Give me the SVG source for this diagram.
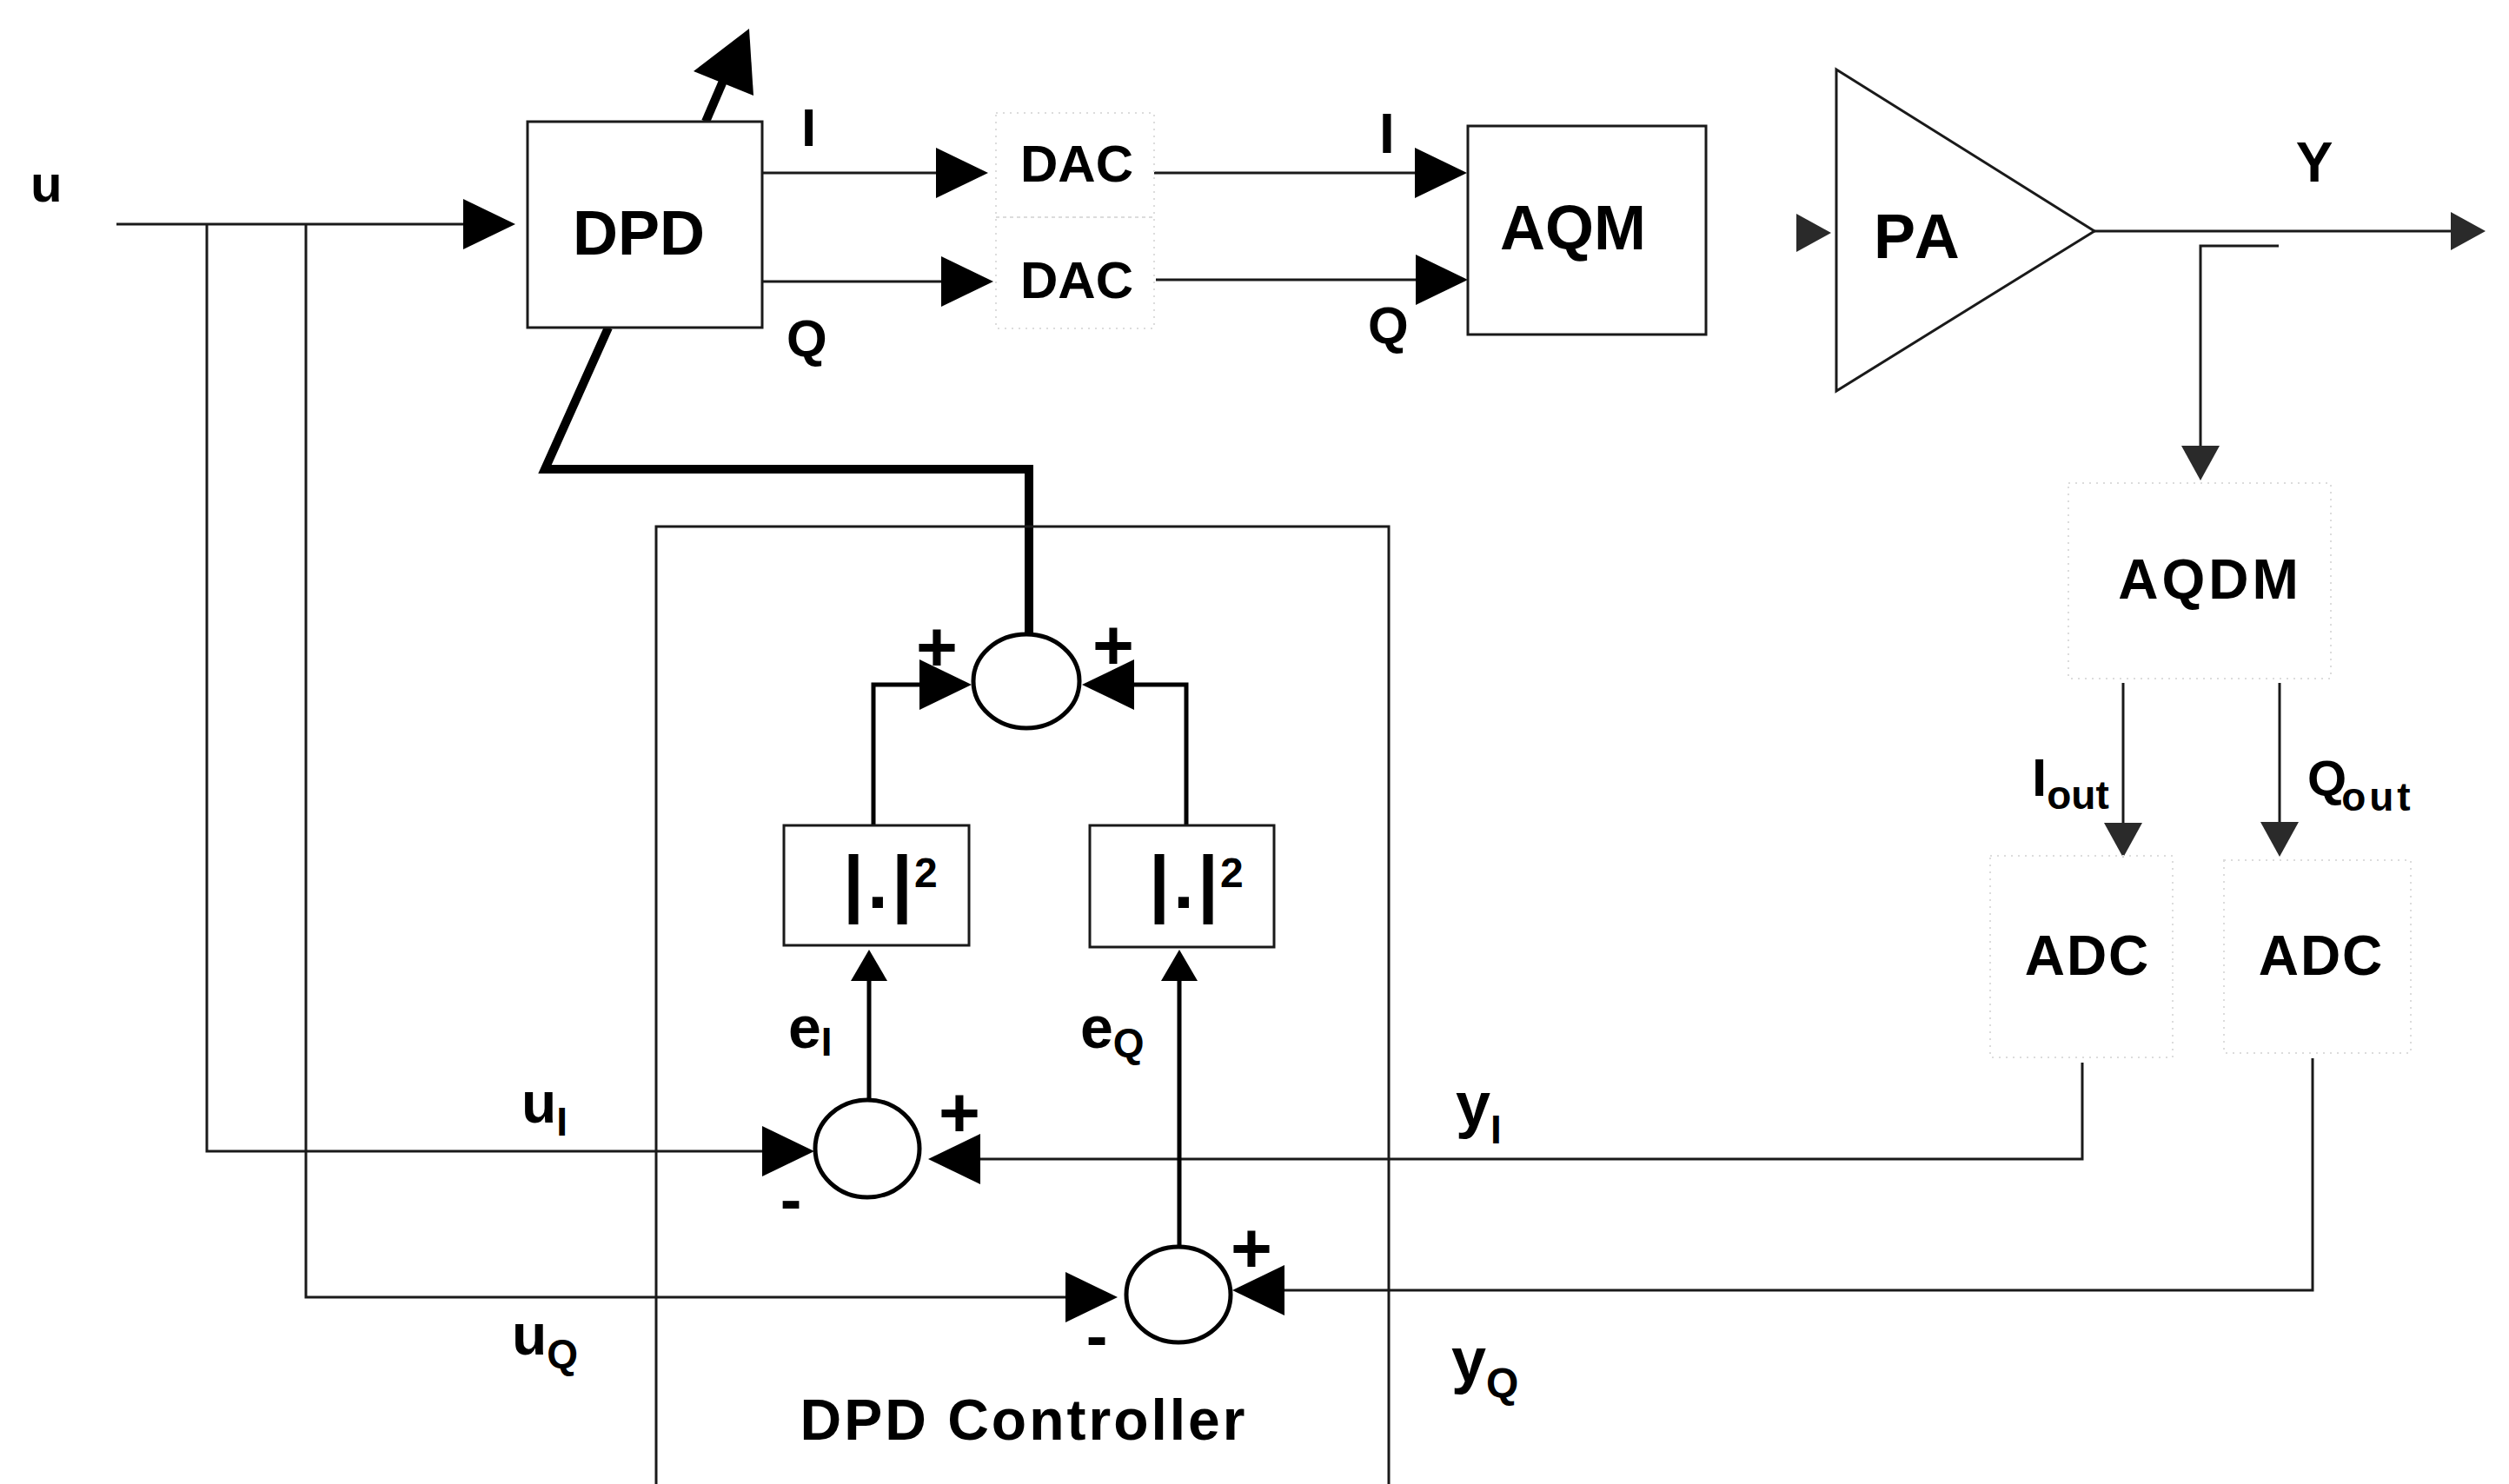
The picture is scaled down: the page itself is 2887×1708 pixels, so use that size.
<svg xmlns="http://www.w3.org/2000/svg" width="2887" height="1708" viewBox="0 0 2887 1708">
<style>
.t{font-family:"Liberation Sans",Arial,Helvetica,sans-serif;font-weight:bold;fill:#000}
.ln{fill:none;stroke:#1a1a1a;stroke-width:3}
.med{fill:none;stroke:#000;stroke-width:5}
.thick{fill:none;stroke:#000;stroke-width:10;stroke-linejoin:miter}
.box{fill:#fff;stroke:#1a1a1a;stroke-width:3}
.faint{fill:none;stroke:#dcdcdc;stroke-width:2;stroke-dasharray:2 6}
.sum{fill:#fff;stroke:#000;stroke-width:5}
.ah{fill:#000}
.ahg{fill:#2a2a2a}
</style>
<defs>
<polygon id="ah" points="0,0 -60,-29 -60,29"/>
<polygon id="ahm" points="0,0 -36,-21 -36,21"/>
<polygon id="ahs" points="0,0 -40,-22 -40,22"/>
</defs>
<rect width="2887" height="1708" fill="#fff"/>

<g id="connectors">
  <line class="ln" x1="134" y1="258" x2="540" y2="258"/>
  <use href="#ah" class="ah" transform="translate(593,258)"/>
  <polyline class="ln" points="238,258 238,1325 880,1325"/>
  <use href="#ah" class="ah" transform="translate(937,1325)"/>
  <polyline class="ln" points="352,258 352,1493 1230,1493"/>
  <use href="#ah" class="ah" transform="translate(1286,1493)"/>
  <line class="ln" x1="877" y1="199" x2="1080" y2="199"/>
  <use href="#ah" class="ah" transform="translate(1137,199)"/>
  <line class="ln" x1="877" y1="324" x2="1086" y2="324"/>
  <use href="#ah" class="ah" transform="translate(1143,324)"/>
  <line class="ln" x1="1328" y1="199" x2="1632" y2="199"/>
  <use href="#ah" class="ah" transform="translate(1688,199)"/>
  <line class="ln" x1="1330" y1="322" x2="1632" y2="322"/>
  <use href="#ah" class="ah" transform="translate(1689,322)"/>
  <use href="#ahs" class="ahg" transform="translate(2107,268)"/>
  <line class="ln" x1="2410" y1="266" x2="2825" y2="266"/>
  <use href="#ahs" class="ahg" transform="translate(2860,266)"/>
  <polyline class="ln" points="2622,283 2532,283 2532,515"/>
  <use href="#ahs" class="ahg" transform="translate(2532,553) rotate(90)"/>
  <line class="ln" x1="2443" y1="786" x2="2443" y2="950"/>
  <use href="#ahs" class="ahg" transform="translate(2443,987) rotate(90)"/>
  <line class="ln" x1="2623" y1="786" x2="2623" y2="950"/>
  <use href="#ahs" class="ahg" transform="translate(2623,986) rotate(90)"/>
  <polyline class="ln" points="2396,1223 2396,1334 1125,1334"/>
  <use href="#ah" class="ah" transform="translate(1068,1334) rotate(180)"/>
  <polyline class="ln" points="2661,1218 2661,1485 1475,1485"/>
  <use href="#ah" class="ah" transform="translate(1418,1485) rotate(180)"/>
  <line class="med" x1="1000" y1="1266" x2="1000" y2="1125"/>
  <use href="#ahm" class="ah" transform="translate(1000,1093) rotate(-90)"/>
  <line class="med" x1="1357" y1="1435" x2="1357" y2="1125"/>
  <use href="#ahm" class="ah" transform="translate(1357,1093) rotate(-90)"/>
  <polyline class="med" points="1005,950 1005,788 1060,788"/>
  <use href="#ah" class="ah" transform="translate(1118,788)"/>
  <polyline class="med" points="1365,950 1365,788 1305,788"/>
  <use href="#ah" class="ah" transform="translate(1245,788) rotate(180)"/>
  <polyline class="thick" points="700,377 627,540 1184,540 1184,731"/>
  <line class="thick" x1="812" y1="140" x2="836" y2="84" stroke-width="12"/>
  <polygon class="ah" points="862,33 798,82 867,110"/>
</g>

<g id="dpd">
  <rect class="box" x="607" y="140" width="270" height="237"/>
  <text class="t" x="735" y="293" font-size="72" text-anchor="middle">DPD</text>
</g>
<g id="dac-i">
  <rect class="faint" x="1146" y="130" width="182" height="120"/>
  <text class="t" x="1239" y="209" font-size="60" text-anchor="middle">DAC</text>
</g>
<g id="dac-q">
  <rect class="faint" x="1146" y="250" width="182" height="128"/>
  <text class="t" x="1239" y="343" font-size="60" text-anchor="middle">DAC</text>
</g>
<g id="aqm">
  <rect class="box" x="1689" y="145" width="274" height="240"/>
  <text class="t" x="1810" y="287" font-size="72" text-anchor="middle">AQM</text>
</g>
<g id="pa">
  <polygon class="box" points="2113,80 2410,266 2113,450"/>
  <text class="t" x="2156" y="297" font-size="72" letter-spacing="4">PA</text>
</g>
<g id="aqdm">
  <rect class="faint" x="2380" y="556" width="302" height="225"/>
  <text class="t" x="2543" y="689" font-size="64" text-anchor="middle" letter-spacing="4">AQDM</text>
</g>
<g id="adc-i">
  <rect class="faint" x="2290" y="985" width="210" height="232"/>
  <text class="t" x="2402" y="1122" font-size="64" text-anchor="middle" letter-spacing="2">ADC</text>
</g>
<g id="adc-q">
  <rect class="faint" x="2559" y="990" width="215" height="222"/>
  <text class="t" x="2671" y="1122" font-size="64" text-anchor="middle" letter-spacing="2">ADC</text>
</g>
<g id="dpd-controller">
  <path class="ln" d="M755,1708 V606 H1598 V1708"/>
  <text class="t" x="1178" y="1657" font-size="66" text-anchor="middle" letter-spacing="3">DPD Controller</text>
</g>
<g id="sum-top">
  <ellipse class="sum" cx="1181" cy="784" rx="61" ry="54"/>
  <text class="t" x="1078" y="772" font-size="82" text-anchor="middle">+</text>
  <text class="t" x="1281" y="770" font-size="82" text-anchor="middle">+</text>
</g>
<g id="sq-i">
  <rect class="box" x="902" y="950" width="213" height="138"/>
  <text class="t" x="970" y="1045" font-size="86" letter-spacing="4">|.|<tspan font-size="48" dy="-24" dx="-2">2</tspan></text>
</g>
<g id="sq-q">
  <rect class="box" x="1254" y="950" width="212" height="140"/>
  <text class="t" x="1322" y="1045" font-size="86" letter-spacing="4">|.|<tspan font-size="48" dy="-24" dx="-2">2</tspan></text>
</g>
<g id="sum-i">
  <ellipse class="sum" cx="998" cy="1322" rx="60" ry="56"/>
  <text class="t" x="1104" y="1308" font-size="82" text-anchor="middle">+</text>
  <text class="t" x="910" y="1406" font-size="74" text-anchor="middle">-</text>
</g>
<g id="sum-q">
  <ellipse class="sum" cx="1356" cy="1490" rx="60" ry="55"/>
  <text class="t" x="1440" y="1464" font-size="82" text-anchor="middle">+</text>
  <text class="t" x="1262" y="1563" font-size="74" text-anchor="middle">-</text>
</g>

<g id="labels">
  <text class="t" x="35" y="232" font-size="60">u</text>
  <text class="t" x="922" y="168" font-size="62">I</text>
  <text class="t" x="905" y="410" font-size="60">Q</text>
  <text class="t" x="1587" y="176" font-size="64">I</text>
  <text class="t" x="1574" y="395" font-size="60">Q</text>
  <text class="t" x="2663" y="209" font-size="64" text-anchor="middle">Y</text>
  <text class="t" x="2338" y="916" font-size="62">I<tspan font-size="46" dy="15">out</tspan></text>
  <text class="t" x="2655" y="916" font-size="58">Q<tspan font-size="46" dy="17" dx="-6" letter-spacing="4">out</tspan></text>
  <text class="t" x="600" y="1292" font-size="66">u<tspan font-size="46" dy="15">I</tspan></text>
  <text class="t" x="589" y="1559" font-size="66">u<tspan font-size="46" dy="15">Q</tspan></text>
  <text class="t" x="907" y="1206" font-size="68">e<tspan font-size="46" dy="9">I</tspan></text>
  <text class="t" x="1243" y="1206" font-size="68">e<tspan font-size="46" dy="10">Q</tspan></text>
  <text class="t" x="1675" y="1296" font-size="72">y<tspan font-size="46" dy="20">I</tspan></text>
  <text class="t" x="1670" y="1590" font-size="72">y<tspan font-size="48" dy="18">Q</tspan></text>
</g>
</svg>
